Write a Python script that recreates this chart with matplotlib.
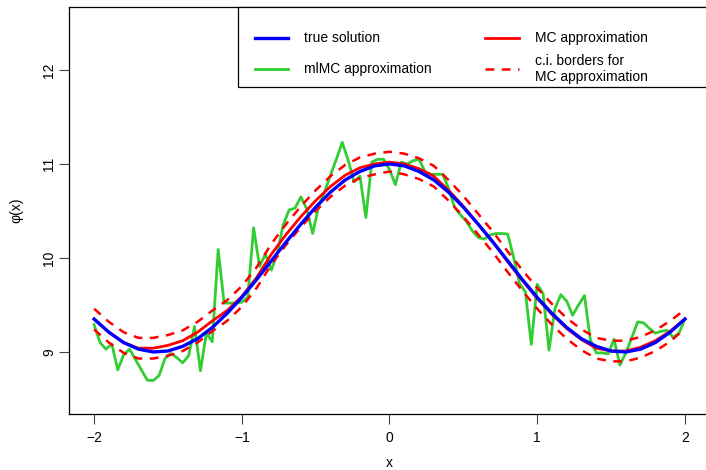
import numpy as np
import matplotlib
matplotlib.use("Agg")
import matplotlib.pyplot as plt
from matplotlib.lines import Line2D
from matplotlib.patches import Rectangle

plt.rcParams['font.family'] = ['Liberation Sans', 'DejaVu Sans']
plt.rcParams['font.size'] = 10

# --- data ---
# coarse grid (step 0.1) for the smooth curves
x_coarse = np.round(np.arange(-2.0, 2.0001, 0.1), 2)
true_solution = [9.35, 9.21, 9.10, 9.03, 9.00, 9.01, 9.06, 9.14, 9.26, 9.41,
                 9.58, 9.77, 9.97, 10.17, 10.36, 10.54, 10.70, 10.83, 10.92, 10.98,
                 11.00, 10.98, 10.92, 10.83, 10.70, 10.54, 10.36, 10.17, 9.97, 9.77,
                 9.58, 9.41, 9.26, 9.14, 9.06, 9.01, 9.00, 9.03, 9.10, 9.21, 9.35]
mc_mean = [9.35, 9.21, 9.10, 9.04, 9.04, 9.07, 9.12, 9.21, 9.33, 9.44,
           9.59, 9.79, 10.04, 10.25, 10.44, 10.61, 10.76, 10.88, 10.96, 11.00,
           11.02, 11.00, 10.95, 10.87, 10.72, 10.55, 10.36, 10.17, 9.96, 9.76,
           9.57, 9.40, 9.25, 9.13, 9.04, 9.01, 9.01, 9.05, 9.12, 9.22, 9.35]
ci_upper = [9.46, 9.32, 9.21, 9.15, 9.15, 9.18, 9.23, 9.32, 9.44, 9.55,
            9.70, 9.90, 10.15, 10.36, 10.55, 10.72, 10.87, 10.99, 11.07, 11.11,
            11.13, 11.11, 11.06, 10.98, 10.83, 10.66, 10.47, 10.28, 10.07, 9.87,
            9.68, 9.51, 9.36, 9.24, 9.15, 9.12, 9.12, 9.16, 9.23, 9.33, 9.45]
ci_lower = [9.24, 9.10, 8.99, 8.93, 8.93, 8.96, 9.01, 9.10, 9.22, 9.33,
            9.48, 9.68, 9.93, 10.14, 10.33, 10.50, 10.65, 10.77, 10.85, 10.89,
            10.92, 10.89, 10.84, 10.76, 10.61, 10.44, 10.25, 10.06, 9.85, 9.65,
            9.46, 9.29, 9.14, 9.02, 8.93, 8.90, 8.90, 8.94, 9.01, 9.11, 9.25]

# fine grid (step 0.04) for the multilevel MC estimate
x_fine = np.linspace(-2.0, 2.0, 101)
mlmc = [9.29, 9.10, 9.03, 9.085, 8.81, 8.97, 9.03, 8.92, 8.81, 8.70,
        8.695, 8.75, 8.93, 8.985, 8.94, 8.885, 8.96, 9.27, 8.80, 9.20,
        9.11, 10.09, 9.52, 9.52, 9.52, 9.53, 9.58, 10.32, 9.91, 10.04,
        9.87, 10.05, 10.35, 10.51, 10.53, 10.65, 10.52, 10.26, 10.55, 10.70,
        10.88, 11.05, 11.23, 11.04, 10.81, 10.87, 10.43, 11.02, 11.05, 11.05,
        10.94, 10.78, 11.02, 11.00, 11.035, 11.05, 10.92, 10.89, 10.89, 10.89,
        10.74, 10.54, 10.46, 10.39, 10.29, 10.22, 10.20, 10.245, 10.26, 10.26,
        10.255, 10.01, 9.73, 9.64, 9.08, 9.72, 9.62, 9.02, 9.46, 9.61,
        9.54, 9.39, 9.50, 9.60, 9.13, 8.99, 8.99, 8.98, 9.135, 8.86,
        8.99, 9.15, 9.32, 9.31, 9.25, 9.20, 9.22, 9.23, 9.155, 9.20, 9.35]

yticks = [9, 10, 11, 12]
xticks = [-2, -1, 0, 1, 2]

W, H = 706, 470
fig = plt.figure(figsize=(W / 100, H / 100), dpi=100)
ax = fig.add_axes([69 / W, 56 / H, 641 / W, 407 / H])

green = '#32CD32'
ax.plot(x_fine, mlmc, color=green, lw=2.0, zorder=2)
ax.plot(x_coarse, ci_upper, color='red', lw=1.8, ls=(0, (3.5, 3)), zorder=3)
ax.plot(x_coarse, ci_lower, color='red', lw=1.8, ls=(0, (3.5, 3)), zorder=3)
ax.plot(x_coarse, mc_mean, color='red', lw=2.0, zorder=4)
ax.plot(x_coarse, true_solution, color='blue', lw=2.4, zorder=5)

ax.set_xlim(-2.17, 2.17)
ax.set_ylim(8.34, 12.67)
ax.set_xticks(xticks)
ax.set_yticks(yticks)
ax.tick_params(direction='out', length=7, width=0.8, color='#444444', labelsize=10)
ax.tick_params(axis='x', pad=5)
ax.tick_params(axis='y', labelrotation=90, pad=2)
for lab in ax.get_yticklabels():
    lab.set_va('center')
for sp in ax.spines.values():
    sp.set_linewidth(0.9)
    sp.set_color('black')
ax.set_xlabel('x', fontsize=10, labelpad=8)
ax.set_ylabel('φ(x)', fontsize=10, labelpad=14)


# legend drawn in pixel coordinates of the figure (top-left origin)
def fp(px, py):
    return px / W, 1 - py / H


x0, y0 = fp(238, 87)
x1, y1 = fp(712, 7)
fig.add_artist(Rectangle((x0, y0), x1 - x0, y1 - y0, transform=fig.transFigure,
                         facecolor='white', edgecolor='black', lw=0.9, zorder=10))

entries = [
    (255, 288, 38, dict(color='blue', lw=2.4), 'true solution'),
    (255, 288, 69, dict(color=green, lw=2.0), 'mlMC approximation'),
    (485, 519, 38, dict(color='red', lw=2.0), 'MC approximation'),
    (485, 519, 69, dict(color='red', lw=1.8, ls=(0, (3.5, 3))), 'c.i. borders for\nMC approximation'),
]
for xa, xb, yy, style, label in entries:
    (ax_, ay), (bx_, by) = fp(xa, yy), fp(xb, yy)
    fig.add_artist(Line2D([ax_, bx_], [ay, by], transform=fig.transFigure, zorder=11, **style))
    tx, ty = fp(xb + 16, yy)
    fig.text(tx, ty, label, ha='left', va='center', fontsize=10, linespacing=1.2, zorder=12)

fig.savefig('out.png', dpi=100)
